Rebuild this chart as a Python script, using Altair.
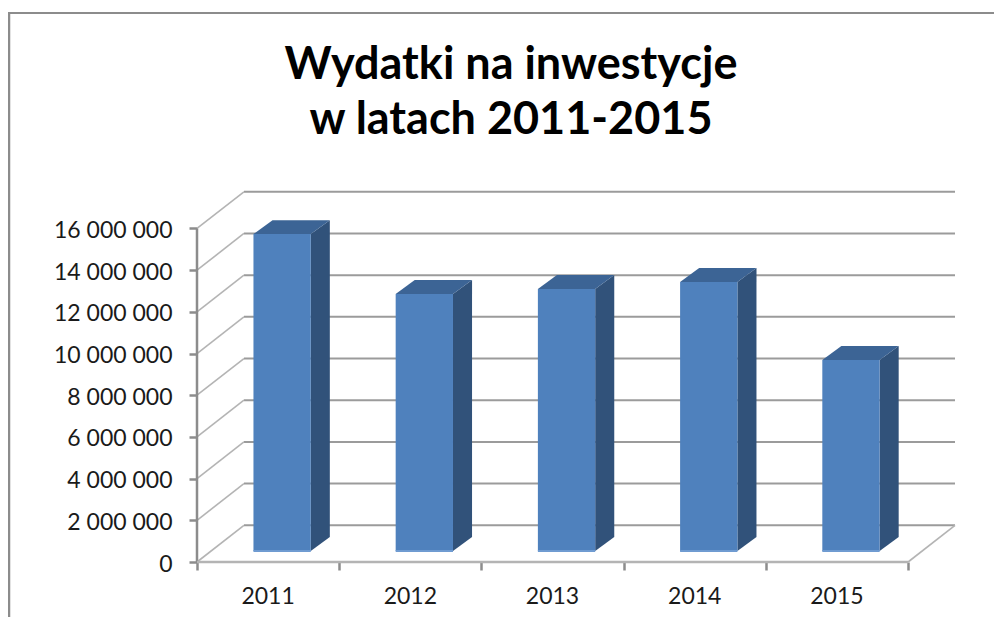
import altair as alt
import pandas as pd

years = ["2011", "2012", "2013", "2014", "2015"]
values = [15_200_000, 12_330_000, 12_570_000, 12_900_000, 9_160_000]
y_ticks = [0, 2_000_000, 4_000_000, 6_000_000, 8_000_000, 10_000_000, 12_000_000, 14_000_000, 16_000_000]
x_ticks = [0, 1, 2, 3, 4, 5]
title_lines = ["Wydatki na inwestycje", "w latach 2011-2015"]

W, H = 758, 370
X_MAX = 5.33
Y_MAX = 17_750_000
WALL_X, WALL_Y = 0.33, 1_760_000     # 3D wall depth
BAR_L, BAR_W = 0.397, 0.403          # bar front position in a category
BAR_DX, BAR_DY = 0.134, 670_000      # bar depth
BAR_BASE = 530_000                   # bars stand forward on the floor

GRID = "#9b9b9b"
LIGHT = "#b4b4b4"
AXIS = "#8c8c8c"
FRONT, SIDE, TOP, EDGE = "#4f81bd", "#31527a", "#3c6495", "#6f9bd1"
FONT = "Lato"

xs = alt.Scale(domain=[0, X_MAX], nice=False, zero=False)
ys = alt.Scale(domain=[0, Y_MAX], nice=False, zero=False)
x_axis = alt.Axis(values=x_ticks, title=None, grid=False, domain=False, labels=False,
                  tickColor=AXIS, tickWidth=2.5, tickSize=8)
y_axis = alt.Axis(values=y_ticks, title=None, grid=False, domain=False, tickColor=AXIS,
                  tickWidth=2.5, tickSize=8, labelPadding=17, labelFont=FONT, labelFontSize=23,
                  labelColor="#1a1a1a", labelOffset=2,
                  labelExpr="replace(format(datum.value, ','), /,/g, ' ')")
X = lambda f: alt.X(f, type="quantitative", scale=xs, axis=x_axis)
Y = lambda f: alt.Y(f, type="quantitative", scale=ys, axis=y_axis)

ticks_df = pd.DataFrame({"v": y_ticks})
ticks_df["x0"] = 0.0
ticks_df["x1"] = WALL_X
ticks_df["x2"] = X_MAX
ticks_df["back"] = ticks_df["v"] + WALL_Y

back_grid = alt.Chart(ticks_df).mark_rule(color=GRID, strokeWidth=2).encode(
    x=X("x1"), x2="x2", y=Y("back"))
side_grid = alt.Chart(ticks_df).mark_rule(color=LIGHT, strokeWidth=1.6).encode(
    x=X("x0"), x2="x1", y=Y("v"), y2="back")

floor_df = pd.DataFrame({"x": [5.0], "x2": [X_MAX], "y": [0], "y2": [WALL_Y]})
floor_edge = alt.Chart(floor_df).mark_rule(color=LIGHT, strokeWidth=1.6).encode(
    x=X("x"), x2="x2", y=Y("y"), y2="y2")

axis_y_df = pd.DataFrame({"x": [0.0], "y": [0], "y2": [max(y_ticks)]})
axis_y_line = alt.Chart(axis_y_df).mark_rule(color=AXIS, strokeWidth=2.5).encode(
    x=X("x"), y=Y("y"), y2="y2")

axis_x_df = pd.DataFrame({"x": [0.0], "x2": [5.0], "y": [0]})
axis_x_line = alt.Chart(axis_x_df).mark_rule(color=LIGHT, strokeWidth=2.5).encode(
    x=X("x"), x2="x2", y=Y("y"))

fronts, sides, tops = [], [], []
for i, (yr, v) in enumerate(zip(years, values)):
    l, r = i + BAR_L, i + BAR_L + BAR_W
    t = BAR_BASE + v
    fronts.append({"year": yr, "l": l, "r": r, "b": BAR_BASE, "t": t})
    sides += [{"year": yr, "x": r, "lo": BAR_BASE, "hi": t},
              {"year": yr, "x": r + BAR_DX, "lo": BAR_BASE + BAR_DY, "hi": t + BAR_DY}]
    tops += [{"year": yr, "x": l, "lo": t, "hi": t},
             {"year": yr, "x": l + BAR_DX, "lo": t, "hi": t + BAR_DY},
             {"year": yr, "x": r, "lo": t, "hi": t + BAR_DY},
             {"year": yr, "x": r + BAR_DX, "lo": t + BAR_DY, "hi": t + BAR_DY}]

sides_ch = alt.Chart(pd.DataFrame(sides)).mark_area(color=SIDE, orient="vertical").encode(
    x=X("x"), y=Y("lo"), y2="hi", detail="year:N")
tops_ch = alt.Chart(pd.DataFrame(tops)).mark_area(color=TOP, orient="vertical").encode(
    x=X("x"), y=Y("lo"), y2="hi", detail="year:N")
fronts_df = pd.DataFrame(fronts)
fronts_ch = alt.Chart(fronts_df).mark_rect(color=FRONT).encode(
    x=X("l"), x2="r", y=Y("b"), y2="t")
edges_ch = alt.Chart(fronts_df).mark_rule(color=EDGE, strokeWidth=2).encode(
    x=X("l"), x2="r", y=Y("b"))

labels_df = pd.DataFrame({"year": years, "x": [i + 0.5 for i in range(len(years))]})
labels = alt.Chart(labels_df).mark_text(
    font=FONT, fontSize=23, color="#1a1a1a", baseline="middle", align="center"
).encode(x=X("x"), y=alt.value(405), text="year:N")

one = pd.DataFrame({"a": [0]})
frame_top = alt.Chart(one).mark_rule(color=AXIS, strokeWidth=2).encode(
    x=alt.value(-189), x2=alt.value(797), y=alt.value(-179))
frame_left = alt.Chart(one).mark_rule(color=AXIS, strokeWidth=2.5).encode(
    x=alt.value(-188), y=alt.value(-179), y2=alt.value(425))

chart = alt.layer(
    frame_top, frame_left, back_grid, side_grid, floor_edge, axis_y_line, axis_x_line,
    sides_ch, tops_ch, fronts_ch, edges_ch, labels,
).properties(
    width=W, height=H,
    title=alt.TitleParams(
        text=title_lines, font="Lato", fontWeight="bold", fontSize=45,
        color="black", anchor="middle", frame="group", dx=-65, lineHeight=55, offset=-131),
    padding={"left": 189, "top": 184, "right": 39, "bottom": 55},
    autosize=alt.AutoSizeParams(type="none"),
).configure_view(stroke=None)

chart.save("out.html", embed_options={"renderer": "svg", "actions": False})
